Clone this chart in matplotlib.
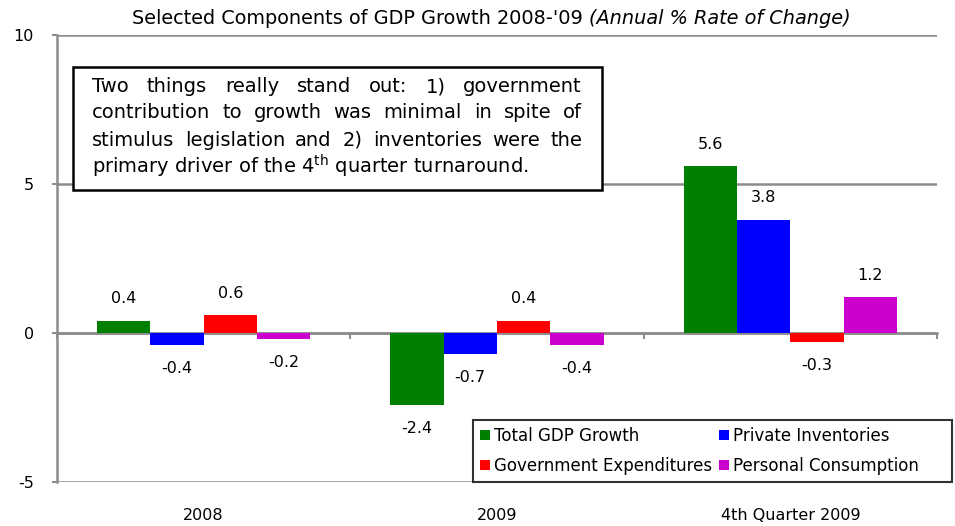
import matplotlib
matplotlib.use("Agg")
import matplotlib.patches as mpatches
import matplotlib.pyplot as plt
import numpy as np

plt.rcParams["font.family"] = ["DejaVu Sans"]
plt.rcParams["mathtext.fontset"] = "dejavusans"

categories = ["2008", "2009", "4th Quarter 2009"]
series = ["Total GDP Growth", "Private Inventories",
          "Government Expenditures", "Personal Consumption"]
total_gdp = [0.4, -2.4, 5.6]
private_inv = [-0.4, -0.7, 3.8]
govt_exp = [0.6, 0.4, -0.3]
personal_cons = [-0.2, -0.4, 1.2]
values = [total_gdp, private_inv, govt_exp, personal_cons]
colors = ["#008000", "#0000FF", "#FF0000", "#CC00CC"]

note_lines = [
    "Two things really stand out: 1) government",
    "contribution to growth was minimal in spite of",
    "stimulus legislation and 2) inventories were the",
    "primary driver of the 4$^{\\mathrm{th}}$ quarter turnaround.",
]

GRAY = "#8c8c8c"
W, H = 955, 526
fig = plt.figure(figsize=(W / 100, H / 100), dpi=100)
renderer = fig.canvas.get_renderer()
ax = fig.add_axes([57 / W, 1 - 482 / H, (937 - 57) / W, (482 - 35) / H])

x = np.arange(len(categories))
bw = 0.182
handles = []
for i, (vals, c) in enumerate(zip(values, colors)):
    xs = x + (i - 1.5) * bw
    bars = ax.bar(xs, vals, width=bw, color=c, label=series[i], zorder=3)
    handles.append(bars)
    for xi, v in zip(xs, vals):
        off = 10.5 if v >= 0 else -11.8
        ax.annotate(f"{v:.1f}", (xi, v), xytext=(0, off),
                    textcoords="offset points", ha="center",
                    va="bottom" if v >= 0 else "top", fontsize=11.5)

ax.set_xlim(-0.5, 2.5)
ax.set_ylim(-5, 10)
ax.set_yticks([-5, 0, 5, 10])
ax.set_yticklabels(["-5", "0", "5", "10"], fontsize=11.5)
ax.set_xticks(x)
ax.set_xticklabels(categories, fontsize=11.5)
ax.tick_params(axis="x", length=0, pad=19)
ax.tick_params(axis="y", length=3.6, width=1.5, color=GRAY, pad=13)
ax.grid(axis="y", color=GRAY, lw=1.8, zorder=0)
for s in ["top", "right"]:
    ax.spines[s].set_visible(False)
ax.spines["bottom"].set_visible(False)
ax.spines["left"].set_color(GRAY)
ax.spines["left"].set_linewidth(1.8)

# zero line with category boundary ticks
zero_loc = (0 - (-5)) / 15
sec = ax.secondary_xaxis(zero_loc)
sec.set_xticks([-0.5, 0.5, 1.5, 2.5])
sec.set_xticklabels([])
sec.tick_params(length=4, width=1.5, color=GRAY)
sec.spines["bottom"].set_color(GRAY)
sec.spines["bottom"].set_linewidth(1.8)

# title: plain part + italic part
t1 = fig.text(132 / W, 1 - 18 / H, "Selected Components of GDP Growth 2008-'09 ",
              ha="left", va="center", fontsize=13.9)
w1 = t1.get_window_extent(renderer).width
fig.text((132 + w1) / W, 1 - 18 / H, "(Annual % Rate of Change)",
         ha="left", va="center", fontsize=13.9, style="italic")

# annotation box
box = mpatches.Rectangle((73 / W, 1 - 190 / H), (602 - 73) / W, (190 - 67) / H,
                         transform=fig.transFigure, fill=True, fc="white",
                         ec="black", lw=1.8, zorder=5)
fig.patches.append(box)

left_px, right_px = 92, 582
line_y = [87, 113, 140, 166]
for k, (line, ly) in enumerate(zip(note_lines, line_y)):
    yf = 1 - ly / H
    if k == len(note_lines) - 1:
        fig.text(left_px / W, yf, line, ha="left", va="center",
                 fontsize=14, zorder=6)
        continue
    words = line.split(" ")
    texts = [fig.text(0, yf, w, ha="left", va="center", fontsize=14, zorder=6)
             for w in words]
    widths = [t.get_window_extent(renderer).width for t in texts]
    gap = (right_px - left_px - sum(widths)) / (len(words) - 1)
    pos = left_px
    for t, wd in zip(texts, widths):
        t.set_x(pos / W)
        pos += wd + gap

order = [0, 2, 1, 3]
leg_labels = [series[i] for i in order]
leg_labels[3] = leg_labels[3] + " " * 5  # Excel leaves room on the right
leg = fig.legend([handles[i] for i in order], leg_labels,
                 loc="upper left", bbox_to_anchor=(473 / W, 1 - 420 / H),
                 ncol=2, fontsize=12, frameon=True, fancybox=False,
                 edgecolor="black", handlelength=0.6, handleheight=0.6,
                 handletextpad=0.25, columnspacing=0.4, borderpad=0.42,
                 labelspacing=0.7, borderaxespad=0)
leg.get_frame().set_linewidth(1.5)

fig.savefig("out.png", dpi=100)
